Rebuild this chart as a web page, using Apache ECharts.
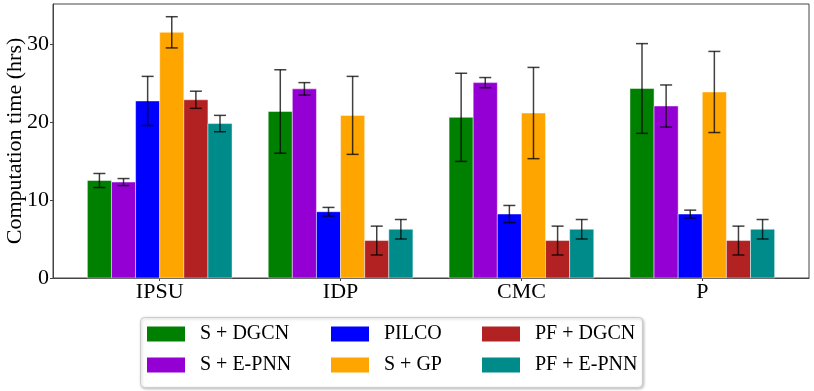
<!DOCTYPE html>
<html>
<head>
<meta charset="utf-8">
<script src="https://cdn.jsdelivr.net/npm/echarts@6/dist/echarts.min.js"></script>
<style>
  html, body { margin: 0; padding: 0; background: #fff; }
  #main { width: 814px; height: 391px; }
</style>
</head>
<body>
<div id="main"></div>
<script>
// categories and methods
var categories = ['IPSU', 'IDP', 'CMC', 'P'];
var methodNames = ['S + DGCN', 'S + E-PNN', 'PILCO', 'S + GP', 'PF + DGCN', 'PF + E-PNN'];
var methodColors = ['#008000', '#9400d3', '#0000ff', '#ffa500', '#b22222', '#008b8b'];

// mean computation time (hrs), per method over categories
var sDgcn  = [12.5, 21.35, 20.6, 24.3];
var sEpnn  = [12.3, 24.25, 25.05, 22.05];
var pilco  = [22.7, 8.5, 8.2, 8.2];
var sGp    = [31.5, 20.85, 21.15, 23.85];
var pfDgcn = [22.85, 4.8, 4.8, 4.8];
var pfEpnn = [19.8, 6.25, 6.25, 6.25];

// error bar half widths
var sDgcnErr  = [0.9, 5.35, 5.65, 5.75];
var sEpnnErr  = [0.45, 0.8, 0.65, 2.7];
var pilcoErr  = [3.15, 0.55, 1.1, 0.5];
var sGpErr    = [2.0, 5.0, 5.85, 5.2];
var pfDgcnErr = [1.1, 1.85, 1.85, 1.85];
var pfEpnnErr = [1.05, 1.25, 1.25, 1.25];

var yTicks = [0, 10, 20, 30];

var means = [sDgcn, sEpnn, pilco, sGp, pfDgcn, pfEpnn];
var errs = [sDgcnErr, sEpnnErr, pilcoErr, sGpErr, pfDgcnErr, pfEpnnErr];

var serif = "'Liberation Serif', 'Times New Roman', 'DejaVu Serif', serif";
var barW = 0.8 / 6;

function makeRender(k, color){
    return function(params, api){
        var x = api.value(0) + (k - 2.5) * barW;
        var v = api.value(1), e = api.value(2);
        var p0 = api.coord([x - barW / 2, v]);
        var p1 = api.coord([x + barW / 2, 0]);
        var top = api.coord([x, v + e]);
        var bot = api.coord([x, v - e]);
        var cap = 6;
        var errStyle = { stroke: 'rgba(0,0,0,0.75)', lineWidth: 1.5 };
        return {
            type: 'group',
            children: [
                { type: 'rect', shape: { x: p0[0], y: p0[1], width: p1[0] - p0[0], height: p1[1] - p0[1] },
                  style: { fill: color, stroke: 'rgba(255,255,255,0.45)', lineWidth: 1 } },
                { type: 'line', shape: { x1: top[0], y1: top[1], x2: bot[0], y2: bot[1] }, style: errStyle },
                { type: 'line', shape: { x1: top[0] - cap, y1: top[1], x2: top[0] + cap, y2: top[1] }, style: errStyle },
                { type: 'line', shape: { x1: bot[0] - cap, y1: bot[1], x2: bot[0] + cap, y2: bot[1] }, style: errStyle }
            ]
        };
    };
}

var series = [];
for (var k = 0; k < methodNames.length; k++) {
    var d = [];
    for (var i = 0; i < categories.length; i++) {
        d.push([i, means[k][i], errs[k][i]]);
    }
    series.push({
        name: methodNames[k],
        type: 'custom',
        renderItem: makeRender(k, methodColors[k]),
        itemStyle: { color: methodColors[k] },
        encode: { x: 0, y: 1 },
        data: d,
        z: 3
    });
}

function legendCol(names, left){
    return {
        orient: 'vertical',
        left: left,
        top: 323,
        padding: 0,
        itemGap: 9,
        itemWidth: 38,
        itemHeight: 15,
        icon: 'rect',
        selectedMode: false,
        data: names,
        textStyle: { fontFamily: serif, fontSize: 20, color: '#000', lineHeight: 22, padding: [0, 0, 0, 10] }
    };
}

var chart = echarts.init(document.getElementById('main'));
var option = {
    animation: false,
    grid: {
        left: 53, right: 5, top: 4, bottom: 113,
        outerBoundsMode: 'none',
        containLabel: false,
        show: true, borderColor: '#444', borderWidth: 1, backgroundColor: 'transparent'
    },
    xAxis: {
        type: 'value',
        min: -0.59,
        max: 3.59,
        axisLine: { show: true, onZero: false, lineStyle: { color: '#444', width: 1 } },
        axisTick: { show: true, length: 3, customValues: [0, 1, 2, 3], lineStyle: { color: '#444' } },
        axisLabel: {
            customValues: [0, 1, 2, 3],
            margin: 3,
            fontFamily: serif, fontSize: 22, color: '#000',
            formatter: function(v){ return categories[Math.round(v)]; }
        },
        splitLine: { show: false }
    },
    yAxis: {
        type: 'value',
        min: 0,
        max: 35.13,
        name: 'Computation time (hrs)',
        nameLocation: 'middle',
        nameGap: 27,
        nameMoveOverlap: false,
        nameTextStyle: { fontFamily: serif, fontSize: 22, color: '#000' },
        axisLine: { show: true, onZero: false, lineStyle: { color: '#444', width: 1 } },
        axisTick: { show: true, length: 3, customValues: yTicks, lineStyle: { color: '#444' } },
        axisLabel: { customValues: yTicks, margin: 4, fontFamily: serif, fontSize: 22, color: '#000' },
        splitLine: { show: false }
    },
    legend: [
        legendCol([methodNames[0], methodNames[1]], 147),
        legendCol([methodNames[2], methodNames[3]], 331),
        legendCol([methodNames[4], methodNames[5]], 482)
    ],
    graphic: [{
        type: 'rect',
        left: 140, top: 317,
        shape: { width: 502, height: 70, r: 4 },
        style: { fill: '#fff', stroke: '#cccccc', lineWidth: 1, shadowBlur: 3, shadowOffsetX: 1, shadowOffsetY: 1, shadowColor: 'rgba(0,0,0,0.25)' },
        z: -1
    }],
    series: series
};
chart.setOption(option);
</script>
</body>
</html>
